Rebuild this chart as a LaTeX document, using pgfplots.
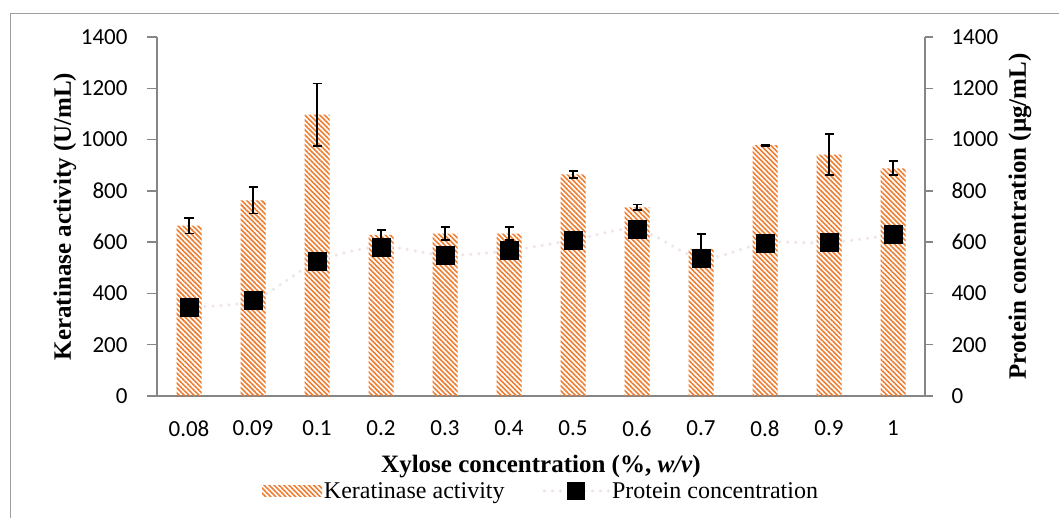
\documentclass[border=0pt]{standalone}
\usepackage{pgfplots}
\pgfplotsset{compat=1.18}
\usepackage{fontspec}
\setmainfont{Liberation Serif}
\newfontfamily\calibri{Carlito}
\usetikzlibrary{patterns.meta}
\definecolor{hatch}{RGB}{237,125,49}
\definecolor{axgray}{RGB}{134,134,134}
\definecolor{dotclr}{RGB}{240,228,228}

\begin{document}
\begin{tikzpicture}
\useasboundingbox (0bp,0bp) rectangle (1059bp,518bp);
\draw[axgray!80, line width=1bp] (10bp,0bp) -- (10bp,504bp) -- (1059bp,504bp);

\begin{axis}[
  at={(157bp,122bp)}, anchor=south west,
  scale only axis, width=768bp, height=359bp,
  xmin=-0.5, xmax=11.5, ymin=0, ymax=1400,
  axis x line*=bottom, axis y line*=left,
  axis line style={axgray, line width=1.5bp},
  tick align=outside,
  major tick length=10bp, minor tick length=8bp,
  tick style={axgray, line width=1.5bp},
  xtick={0,...,11},
  xticklabels={0.08,0.09,0.1,0.2,0.3,0.4,0.5,0.6,0.7,0.8,0.9,1},
  xtick style={draw=none},
  minor xtick={-0.5,0.5,1.5,2.5,3.5,4.5,5.5,6.5,7.5,8.5,9.5,10.5,11.5},
  ytick={0,200,...,1400},
  ticklabel style={font=\calibri\fontsize{23bp}{28bp}\selectfont},
  /pgf/number format/assume math mode=true,
  yticklabel style={/pgf/number format/.cd, 1000 sep={}, /tikz/.cd, xshift=-16bp},
  xticklabel style={yshift=-11bp},
  xlabel={\textbf{Xylose concentration (\%, \textit{w/v})}},
  every axis x label/.style={at={(axis description cs:0.5,-0.2117)}, anchor=base,
     font=\fontsize{25bp}{30bp}\selectfont},
  ylabel={\textbf{Keratinase activity (U/mL)}},
  every axis y label/.style={at={(axis description cs:-0.1198,0.5)}, anchor=center, rotate=90,
     font=\fontsize{25bp}{30bp}\selectfont},
  legend columns=2,
  legend style={draw=none, fill=none, at={(axis description cs:0.5,-0.2646)}, anchor=center,
     font=\fontsize{24bp}{28bp}\selectfont,
     /tikz/every even column/.append style={column sep=36bp}},
  clip=false,
]
\addplot[ybar, bar width=25bp, draw=none,
  pattern={Lines[angle=-45, distance=3.5bp, line width=1.6bp]}, pattern color=hatch,
  legend image code/.code={\fill[pattern={Lines[angle=-45, distance=3.5bp, line width=1.6bp]}, pattern color=hatch] (0bp,-5.5bp) rectangle (60bp,5.5bp);},
  error bars/.cd, y dir=both, y explicit,
  error bar style={black, line width=1.8bp},
  error mark options={black, rotate=90, mark size=4.5bp, line width=1.8bp}
] table[x=x, y=y, y error=e] {
x y e
0 664 30
1 763 51
2 1097 122
3 628 19
4 633 26
5 633 25
6 864 13
7 736 11
8 574 58
9 978 3
10 941 80
11 888 27
};
\addlegendentry{Keratinase activity}
\addplot[smooth, draw=dotclr, line width=3.5bp, line cap=round, dash pattern=on 0bp off 8bp,
  mark=square*, mark size=9bp, mark options={solid, fill=black, draw=black, line width=0.5bp},
  legend image code/.code={\draw[dotclr, line width=3.5bp, line cap=round, dash pattern=on 0bp off 8bp] (0bp,0bp) -- (64bp,0bp); \node[fill=black, minimum size=18bp, inner sep=0pt] at (32bp,0bp) {};}
] table {
0 348
1 372
2 524
3 582
4 549
5 567
6 608
7 650
8 537
9 597
10 598
11 629
};
\addlegendentry{Protein concentration}
\end{axis}

\begin{axis}[
  at={(157bp,122bp)}, anchor=south west,
  scale only axis, width=768bp, height=359bp,
  xmin=-0.5, xmax=11.5, ymin=0, ymax=1400,
  axis x line=none, axis y line*=right,
  axis line style={axgray, line width=1.5bp},
  tick align=outside,
  major tick length=8bp,
  tick style={axgray, line width=1.5bp},
  ytick={0,200,...,1400},
  ticklabel style={font=\calibri\fontsize{23bp}{28bp}\selectfont},
  /pgf/number format/assume math mode=true,
  yticklabel style={/pgf/number format/.cd, 1000 sep={}, /tikz/.cd, xshift=15bp},
  ylabel={\textbf{Protein concentration (µg/mL)}},
  every axis y label/.style={at={(axis description cs:1.1237,0.5)}, anchor=center, rotate=90,
     font=\fontsize{25bp}{30bp}\selectfont},
]
\addplot[draw=none] coordinates {(0,0)};
\end{axis}
\end{tikzpicture}
\end{document}
